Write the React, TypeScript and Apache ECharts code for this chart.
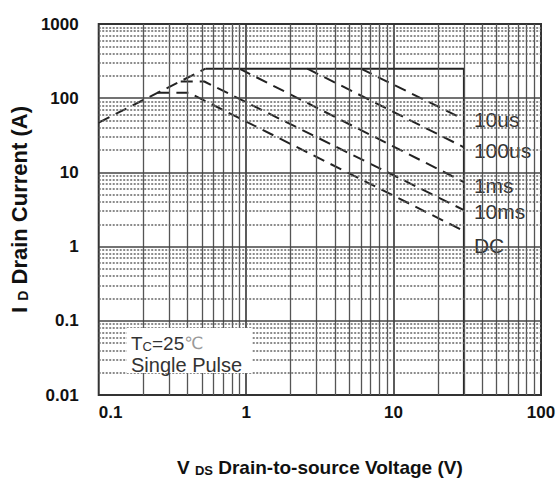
import React, { useEffect, useRef } from 'react';
import * as echarts from 'echarts';

// Axis ticks (decades) and log minor multipliers
const xDecades = [0.1, 1, 10, 100];
const yDecades = [0.01, 0.1, 1, 10, 100, 1000];
const minorMultipliers = [2, 3, 4, 5, 6, 7, 8, 9];

// Rds(on) limit line (dashed)
const rdsV = [0.1, 0.53];
const rdsI = [47, 250];
// Package / voltage limit (solid)
const limitV = [0.53, 30, 30];
const limitI = [250, 250, 0.01];
// Pulse curves
const us10V = [6, 30];
const us10I = [250, 52];
const us100V = [2.6, 30];
const us100I = [250, 21.8];
const ms1V = [0.9, 30];
const ms1I = [250, 7.4];
const ms10V = [0.36, 0.52, 30];
const ms10I = [168, 168, 3.1];
const dcV = [0.25, 0.41, 30];
const dcI = [118, 118, 1.62];

const curveNames = ['10us', '100us', '1ms', '10ms', 'DC'];
const curveV = [us10V, us100V, ms1V, ms10V, dcV];
const curveI = [us10I, us100I, ms1I, ms10I, dcI];
const labelOffsets = [0, 3, 3, 1, 14];

const FONT = 'Liberation Sans, Arial, sans-serif';

const zip = (a: number[], b: number[]) => a.map((v, i) => [v, b[i]]);
const fmt = (v: number) => String(+Number(v).toPrecision(6));

export default function App() {
  const ref = useRef<HTMLDivElement>(null);
  useEffect(() => {
    if (!ref.current) return;
    const chart = echarts.init(ref.current, undefined, { renderer: 'svg' });

    const vLines: any[] = [];
    xDecades.forEach((d, i) => {
      if (i > 0 && i < xDecades.length - 1) {
        vLines.push({ xAxis: d, lineStyle: { color: '#333', width: 1.6, type: 'solid' } });
      }
      if (i < xDecades.length - 1) {
        minorMultipliers.forEach((m) =>
          vLines.push({ xAxis: d * m, lineStyle: { color: '#555', width: 1.3, type: 'solid' } })
        );
      }
    });
    const hLines: any[] = [];
    yDecades.forEach((d, i) => {
      if (i > 0 && i < yDecades.length - 1) {
        hLines.push({ yAxis: d, lineStyle: { color: '#444', width: 1.6, type: 'solid' } });
      }
      if (i < yDecades.length - 1) {
        minorMultipliers.forEach((m) =>
          hLines.push({ yAxis: d * m, lineStyle: { color: '#666', width: 1.6, type: [2, 1.5] } })
        );
      }
    });

    const dashStyle = { color: '#222', width: 2, type: [12, 7] as any };

    const series: any[] = [
      {
        type: 'line',
        name: 'grid',
        data: [[0.1, 0.01]],
        showSymbol: false,
        symbol: 'none',
        silent: true,
        z: 1,
        lineStyle: { width: 0 },
        markLine: {
          silent: true,
          symbol: ['none', 'none'],
          label: { show: false },
          animation: false,
          emphasis: { disabled: true },
          data: [...vLines, ...hLines],
        },
      },
      {
        type: 'line',
        name: 'Rds',
        data: zip(rdsV, rdsI),
        showSymbol: false,
        symbol: 'none',
        z: 3,
        lineStyle: dashStyle,
      },
      {
        type: 'line',
        name: 'limit',
        data: zip(limitV, limitI),
        showSymbol: false,
        symbol: 'none',
        z: 3,
        lineStyle: { color: '#222', width: 2 },
      },
      ...curveNames.map((n, k) => ({
        type: 'line',
        name: n,
        data: zip(curveV[k], curveI[k]),
        showSymbol: false,
        symbol: 'none',
        z: 4,
        lineStyle: dashStyle,
        endLabel: {
          show: true,
          formatter: n,
          fontFamily: FONT,
          fontSize: 21,
          color: '#333',
          backgroundColor: '#fff',
          padding: [1, 3, 0, 3],
          distance: 7,
          offset: [0, labelOffsets[k]],
        },
      })),
    ];

    chart.setOption({
      animation: false,
      backgroundColor: '#fff',
      grid: {
        left: 97,
        right: 19,
        top: 24,
        bottom: 84,
        show: true,
        borderColor: '#333',
        borderWidth: 2,
        backgroundColor: '#fff',
        z: 0,
      },
      xAxis: {
        type: 'log',
        logBase: 10,
        min: 0.1,
        max: 100,
        splitNumber: 3,
        axisLine: { show: false },
        axisTick: { show: false },
        splitLine: { show: false },
        axisLabel: {
          fontFamily: FONT,
          fontSize: 17,
          fontWeight: 'bold',
          color: '#111',
          margin: 9,
          alignMinLabel: 'left',
          formatter: fmt,
        },
        name: '{n|V }{s|DS}{n| Drain-to-source Voltage (V)}',
        nameLocation: 'middle',
        nameGap: 60,
        nameTextStyle: {
          rich: {
            n: { fontFamily: FONT, fontSize: 19, fontWeight: 'bold', color: '#111', lineHeight: 22, verticalAlign: 'bottom' },
            s: { fontFamily: FONT, fontSize: 13, fontWeight: 'bold', color: '#111', lineHeight: 22, verticalAlign: 'bottom' },
          },
        },
      },
      yAxis: {
        type: 'log',
        logBase: 10,
        min: 0.01,
        max: 1000,
        splitNumber: 5,
        axisLine: { show: false },
        axisTick: { show: false },
        splitLine: { show: false },
        axisLabel: {
          fontFamily: FONT,
          fontSize: 17,
          fontWeight: 'bold',
          color: '#111',
          margin: 20,
          formatter: fmt,
        },
        name: '{n|I }{s|D}{n| Drain Current (A)}',
        nameLocation: 'middle',
        nameGap: 67,
        nameTextStyle: {
          rich: {
            n: { fontFamily: FONT, fontSize: 22, fontWeight: 'bold', color: '#111', lineHeight: 24, verticalAlign: 'bottom' },
            s: { fontFamily: FONT, fontSize: 14, fontWeight: 'bold', color: '#111', lineHeight: 24, verticalAlign: 'bottom' },
          },
        },
      },
      graphic: [
        {
          type: 'rect',
          shape: { x: 127, y: 328, width: 125, height: 45 },
          style: { fill: '#fff' },
          z: 50,
          silent: true,
        },
        {
          type: 'text',
          x: 131,
          y: 343,
          z: 51,
          style: {
            text: '{a|T}{s|C}{a|=25}{d|℃}',
            verticalAlign: 'middle',
            rich: {
              a: { fontFamily: FONT, fontSize: 19, fill: '#333', lineHeight: 20, verticalAlign: 'middle' },
              s: { fontFamily: FONT, fontSize: 13, fill: '#333', lineHeight: 6, verticalAlign: 'bottom' },
              d: { fontFamily: 'DejaVu Sans, sans-serif', fontSize: 17, fill: '#999', lineHeight: 20, verticalAlign: 'middle' },
            },
          },
        },
        {
          type: 'text',
          x: 131,
          y: 365,
          z: 51,
          style: {
            text: 'Single Pulse',
            fontFamily: FONT,
            fontSize: 20,
            lineHeight: 20,
            fill: '#333',
            verticalAlign: 'middle',
          },
        },
      ],
      series,
    });
    return () => chart.dispose();
  }, []);
  return <div ref={ref} style={{ position: 'absolute', left: 0, top: 0, width: 560, height: 482 }} />;
}
